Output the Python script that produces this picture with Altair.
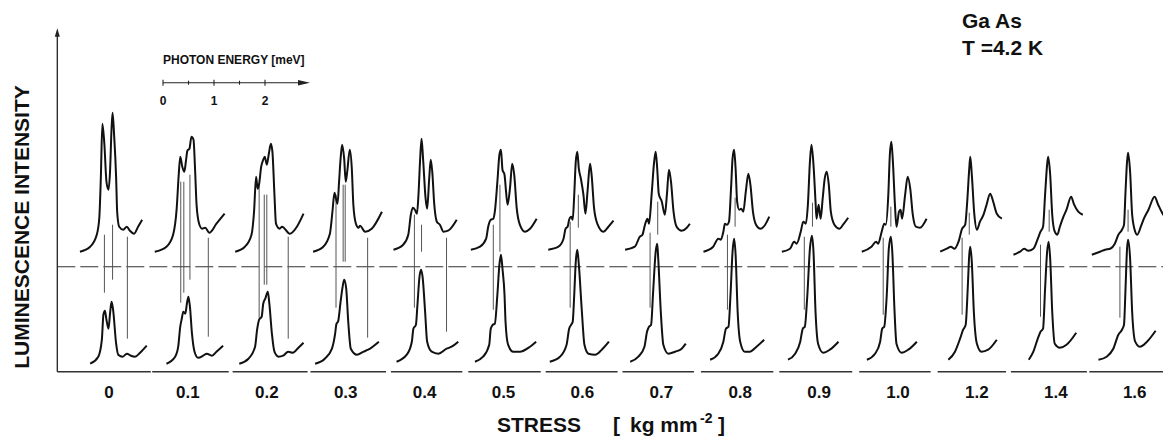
import altair as alt
import pandas as pd

# ---------------- data ----------------
STRESS = ["0", "0.1", "0.2", "0.3", "0.4", "0.5", "0.6", "0.7",
          "0.8", "0.9", "1.0", "1.2", "1.4", "1.6"]

# upper spectra: photon energy (meV, relative to panel) and intensity (arb. units)
UPPER_E = [
    [-0.57, -0.37, -0.24, -0.19, -0.16, -0.13, -0.09, -0.05, -0.01, 0.02, 0.05, 0.07, 0.10, 0.14, 0.16, 0.20, 0.28, 0.35, 0.41, 0.49, 0.57, 0.65],
    [-0.65, -0.42, -0.29, -0.22, -0.18, -0.15, -0.11, -0.07, -0.04, -0.01, 0.03, 0.07, 0.11, 0.14, 0.17, 0.22, 0.28, 0.34, 0.42, 0.56, 0.72],
    [-0.62, -0.43, -0.30, -0.25, -0.21, -0.18, -0.15, -0.11, -0.07, -0.04, 0.00, 0.04, 0.08, 0.11, 0.15, 0.18, 0.25, 0.30, 0.45, 0.59, 0.72],
    [-0.64, -0.44, -0.31, -0.26, -0.22, -0.19, -0.16, -0.13, -0.10, -0.07, -0.03, 0.00, 0.03, 0.08, 0.12, 0.15, 0.20, 0.25, 0.28, 0.38, 0.51, 0.71],
    [-0.61, -0.42, -0.32, -0.27, -0.23, -0.19, -0.15, -0.12, -0.09, -0.06, -0.03, 0.02, 0.05, 0.09, 0.12, 0.15, 0.19, 0.24, 0.30, 0.37, 0.46, 0.63],
    [-0.64, -0.46, -0.34, -0.30, -0.25, -0.20, -0.17, -0.12, -0.08, -0.05, -0.02, 0.02, 0.05, 0.08, 0.13, 0.17, 0.21, 0.26, 0.32, 0.42, 0.52, 0.65],
    [-0.67, -0.47, -0.37, -0.33, -0.29, -0.26, -0.22, -0.19, -0.16, -0.13, -0.10, -0.07, -0.03, 0.02, 0.06, 0.10, 0.15, 0.18, 0.23, 0.30, 0.41, 0.51, 0.61],
    [-0.71, -0.52, -0.42, -0.37, -0.32, -0.27, -0.24, -0.19, -0.14, -0.11, -0.08, -0.05, 0.01, 0.07, 0.11, 0.15, 0.19, 0.24, 0.30, 0.40, 0.50, 0.56],
    [-0.72, -0.53, -0.43, -0.38, -0.33, -0.30, -0.26, -0.22, -0.18, -0.15, -0.12, -0.09, -0.06, -0.02, 0.02, 0.06, 0.11, 0.16, 0.20, 0.25, 0.31, 0.40, 0.49, 0.57],
    [-0.73, -0.57, -0.49, -0.44, -0.36, -0.31, -0.26, -0.22, -0.18, -0.15, -0.11, -0.07, -0.05, -0.01, 0.03, 0.07, 0.11, 0.15, 0.19, 0.23, 0.30, 0.40, 0.47, 0.57],
    [-0.71, -0.52, -0.43, -0.39, -0.32, -0.27, -0.24, -0.19, -0.16, -0.13, -0.10, -0.06, -0.03, 0.02, 0.05, 0.08, 0.14, 0.19, 0.24, 0.29, 0.35, 0.43, 0.56],
    [-0.72, -0.59, -0.51, -0.44, -0.36, -0.29, -0.23, -0.19, -0.15, -0.13, -0.10, -0.05, 0.00, 0.06, 0.13, 0.19, 0.26, 0.32, 0.39, 0.49],
    [-0.83, -0.70, -0.62, -0.54, -0.44, -0.36, -0.30, -0.25, -0.21, -0.17, -0.15, -0.11, -0.07, -0.02, 0.03, 0.08, 0.15, 0.21, 0.30, 0.36, 0.44, 0.53],
    [-0.84, -0.68, -0.58, -0.48, -0.39, -0.32, -0.25, -0.21, -0.18, -0.15, -0.13, -0.09, -0.05, 0.01, 0.05, 0.12, 0.18, 0.27, 0.39, 0.46, 0.56, 0.69],
]
UPPER_I = [
    [15, 20, 32, 49, 89, 143, 122, 85, 77, 95, 138, 154, 132, 89, 55, 40, 37, 40, 36, 33, 40, 47],
    [15, 20, 32, 58, 92, 110, 100, 95, 105, 116, 118, 130, 127, 98, 62, 43, 38, 39, 34, 43, 53],
    [15, 20, 32, 55, 90, 78, 83, 100, 107, 110, 102, 113, 123, 115, 72, 43, 38, 40, 33, 40, 53],
    [15, 20, 33, 55, 74, 68, 63, 85, 108, 122, 108, 85, 95, 117, 98, 62, 43, 39, 41, 35, 38, 55],
    [17, 22, 32, 52, 59, 57, 53, 72, 105, 128, 108, 68, 58, 88, 107, 95, 62, 45, 42, 35, 36, 47],
    [17, 20, 28, 40, 47, 48, 55, 85, 112, 117, 97, 92, 75, 62, 80, 103, 92, 58, 42, 35, 38, 48],
    [17, 20, 28, 38, 40, 47, 50, 47, 72, 105, 115, 98, 88, 72, 53, 75, 103, 92, 58, 42, 35, 40, 46],
    [17, 20, 30, 32, 42, 48, 43, 72, 105, 115, 98, 73, 65, 52, 72, 97, 85, 55, 40, 36, 39, 43],
    [15, 20, 28, 27, 35, 43, 42, 45, 78, 108, 117, 98, 65, 57, 58, 55, 75, 93, 82, 55, 42, 38, 42, 50],
    [15, 18, 25, 23, 35, 45, 43, 62, 105, 122, 102, 65, 48, 62, 48, 68, 88, 95, 82, 55, 42, 38, 42, 49],
    [15, 20, 25, 23, 35, 43, 42, 72, 112, 125, 105, 62, 40, 55, 57, 48, 72, 90, 78, 52, 40, 39, 48],
    [15, 18, 20, 18, 25, 38, 42, 65, 98, 110, 92, 52, 37, 45, 52, 62, 73, 65, 53, 48],
    [12, 15, 18, 16, 18, 27, 35, 40, 72, 102, 110, 92, 52, 35, 32, 40, 50, 57, 70, 62, 55, 52],
    [12, 15, 17, 18, 23, 32, 37, 42, 75, 105, 114, 95, 52, 35, 32, 40, 48, 57, 70, 62, 52, 47],
]

# lower spectra
LOWER_E = [
    [-0.37, -0.21, -0.14, -0.11, -0.08, -0.05, -0.01, 0.02, 0.05, 0.08, 0.14, 0.18, 0.27, 0.35, 0.43, 0.51, 0.61, 0.74],
    [-0.42, -0.25, -0.19, -0.15, -0.12, -0.09, -0.05, -0.02, 0.01, 0.04, 0.08, 0.13, 0.20, 0.30, 0.37, 0.47, 0.56, 0.69],
    [-0.54, -0.36, -0.23, -0.19, -0.15, -0.10, -0.07, -0.03, 0.02, 0.05, 0.10, 0.15, 0.23, 0.32, 0.42, 0.51, 0.62, 0.72],
    [-0.60, -0.41, -0.27, -0.21, -0.18, -0.15, -0.10, -0.06, -0.03, 0.01, 0.05, 0.10, 0.22, 0.35, 0.44, 0.65],
    [-0.55, -0.35, -0.25, -0.22, -0.17, -0.14, -0.10, -0.07, -0.04, 0.01, 0.05, 0.14, 0.27, 0.43, 0.53, 0.66],
    [-0.56, -0.40, -0.28, -0.25, -0.21, -0.17, -0.12, -0.08, -0.05, -0.02, 0.02, 0.04, 0.09, 0.19, 0.32, 0.52, 0.64],
    [-0.64, -0.44, -0.31, -0.26, -0.22, -0.19, -0.16, -0.13, -0.10, -0.07, -0.01, 0.04, 0.12, 0.25, 0.38, 0.52],
    [-0.61, -0.45, -0.33, -0.28, -0.24, -0.20, -0.16, -0.11, -0.08, -0.06, -0.01, 0.04, 0.14, 0.27, 0.40, 0.48],
    [-0.59, -0.43, -0.33, -0.28, -0.23, -0.19, -0.15, -0.12, -0.09, -0.05, 0.00, 0.09, 0.19, 0.32, 0.47],
    [-0.61, -0.47, -0.37, -0.32, -0.28, -0.23, -0.18, -0.14, -0.11, -0.07, -0.02, 0.08, 0.21, 0.38],
    [-0.61, -0.45, -0.35, -0.31, -0.27, -0.22, -0.18, -0.14, -0.11, -0.07, -0.03, 0.07, 0.20, 0.37],
    [-0.56, -0.43, -0.33, -0.27, -0.22, -0.18, -0.15, -0.13, -0.10, -0.06, 0.00, 0.09, 0.22, 0.39],
    [-0.53, -0.44, -0.36, -0.30, -0.25, -0.21, -0.17, -0.14, -0.11, -0.07, -0.02, 0.08, 0.21, 0.40],
    [-0.71, -0.55, -0.42, -0.32, -0.25, -0.21, -0.18, -0.15, -0.13, -0.09, -0.05, 0.01, 0.10, 0.24, 0.41],
]
LOWER_I = [
    [8, 15, 32, 57, 61, 52, 43, 58, 70, 62, 28, 17, 15, 18, 16, 15, 19, 26],
    [8, 15, 25, 45, 53, 60, 58, 68, 75, 65, 38, 20, 14, 16, 18, 16, 20, 26],
    [8, 13, 25, 42, 52, 55, 68, 73, 80, 68, 38, 20, 15, 16, 20, 19, 24, 29],
    [8, 13, 23, 37, 48, 50, 70, 85, 92, 83, 50, 23, 17, 20, 22, 30],
    [10, 17, 30, 43, 47, 67, 95, 102, 95, 60, 30, 20, 18, 23, 25, 30],
    [10, 15, 27, 43, 47, 48, 77, 107, 117, 103, 77, 50, 27, 20, 20, 25, 30],
    [10, 15, 27, 43, 47, 50, 77, 110, 122, 107, 60, 27, 18, 17, 22, 30],
    [10, 15, 25, 40, 45, 47, 80, 120, 128, 113, 60, 27, 18, 20, 23, 28],
    [12, 18, 30, 43, 45, 77, 120, 133, 117, 60, 30, 20, 20, 25, 32],
    [12, 18, 30, 43, 45, 77, 123, 136, 120, 60, 28, 19, 22, 30],
    [12, 18, 30, 43, 45, 77, 123, 135, 118, 63, 28, 19, 22, 30],
    [12, 20, 33, 42, 47, 83, 117, 125, 110, 60, 28, 20, 22, 32],
    [12, 20, 32, 40, 43, 83, 120, 130, 113, 60, 28, 24, 27, 39],
    [12, 15, 23, 37, 42, 47, 83, 123, 132, 113, 60, 30, 25, 30, 41],
]

# thin vertical lines linking the lines of the two spectra: energy, top, bottom
MARK_E = [
    [-0.09, 0.07, 0.36], [-0.14, -0.08, 0.04, 0.40], [-0.15, -0.05, 0.00, 0.42],
    [-0.19, -0.05, -0.01, 0.43], [-0.20, -0.06, 0.43], [-0.20, -0.07], [-0.24, -0.08],
    [-0.22, -0.07], [-0.25, -0.10], [-0.29, -0.13], [-0.29, -0.14], [-0.29, -0.15],
    [-0.30, -0.13], [-0.29, -0.13],
]
MARK_TOP = [
    [137, 147, 135], [190, 190, 197, 134], [187, 177, 177, 135], [177, 187, 187, 134],
    [157, 147, 134], [147, 187], [150, 177], [139, 170], [137, 174], [135, 169],
    [134, 165], [134, 159], [127, 162], [125, 162],
]
MARK_BOT = [
    [79, 92, 33], [69, 79, 92, 35], [54, 87, 87, 33], [64, 110, 110, 34],
    [64, 120, 40], [62, 120], [64, 144], [64, 137], [62, 145], [62, 145],
    [57, 145], [57, 137], [55, 140], [54, 140],
]

SCALE_TICKS = [0, 0.5, 1, 1.5, 2]
SCALE_LABELS = ["0", "1", "2"]

# ---------------- layout ----------------
PX_PER_MEV = 51.0


def px_to_x(px):
    return (px - 163) / PX_PER_MEV


def py_to_y(py):
    return 371.7 - py


X_DOMAIN = [px_to_x(8), px_to_x(1163)]
Y_DOMAIN = [py_to_y(436), py_to_y(8)]
PANEL0 = px_to_x(109)
PANEL_STEP = 78.9 / PX_PER_MEV
UPPER_LEVEL = 105
AXIS_X = px_to_x(57.3)
FONT = "Liberation Sans"

xs = alt.Scale(domain=X_DOMAIN, nice=False, zero=False)
ys = alt.Scale(domain=Y_DOMAIN, nice=False, zero=False)


def X(f):
    return alt.X(f, type="quantitative", scale=xs, axis=None)


def Y(f):
    return alt.Y(f, type="quantitative", scale=ys, axis=None)


centers = [PANEL0 + i * PANEL_STEP for i in range(len(STRESS))]

rows, marks, base = [], [], []
for i, xc in enumerate(centers):
    for e, v in zip(UPPER_E[i], UPPER_I[i]):
        rows.append(dict(series=f"u{i}", x=xc + e, y=UPPER_LEVEL + v))
    for e, v in zip(LOWER_E[i], LOWER_I[i]):
        rows.append(dict(series=f"l{i}", x=xc + e, y=v))
    for e, t, b in zip(MARK_E[i], MARK_TOP[i], MARK_BOT[i]):
        marks.append(dict(x=xc + e, y=t, y2=b))
    lo = min(UPPER_E[i] + LOWER_E[i]) + xc - 0.05
    hi = max(UPPER_E[i] + LOWER_E[i]) + xc + 0.08
    base.append(dict(x=AXIS_X if i == 0 else lo, x2=hi, y=0))

spec = pd.DataFrame(rows)
marks_df = pd.DataFrame(marks)
base_df = pd.DataFrame(base)
labels_df = pd.DataFrame(dict(x=centers, y=[py_to_y(392.5)] * len(STRESS), text=STRESS))

spectra = alt.Chart(spec).mark_line(color="#111", strokeWidth=2, interpolate="monotone").encode(
    x=X("x"), y=Y("y"), detail="series:N")

link_lines = alt.Chart(marks_df).mark_rule(color="#555", strokeWidth=1).encode(
    x=X("x"), y=Y("y"), y2="y2:Q")

baselines = alt.Chart(base_df).mark_rule(color="#333", strokeWidth=1.5).encode(
    x=X("x"), x2="x2:Q", y=Y("y"))

dashed = alt.Chart(pd.DataFrame(dict(x=[AXIS_X], x2=[X_DOMAIN[1]], y=[UPPER_LEVEL]))).mark_rule(
    color="#333", strokeWidth=1.1, strokeDash=[18, 5]).encode(x=X("x"), x2="x2:Q", y=Y("y"))

yaxis = alt.Chart(pd.DataFrame(dict(x=[AXIS_X], y=[0], y2=[py_to_y(34)]))).mark_rule(
    color="#222", strokeWidth=1.3).encode(x=X("x"), y=Y("y"), y2="y2:Q")
yarrow = alt.Chart(pd.DataFrame(dict(x=[AXIS_X], y=[py_to_y(32.5)]))).mark_point(
    shape="M0,-1L0.6,1L-0.6,1Z", filled=True, color="#222", size=70, opacity=1).encode(
    x=X("x"), y=Y("y"))

bar_y = py_to_y(82.7)
sbar = alt.Chart(pd.DataFrame(dict(x=[0], x2=[px_to_x(300)], y=[bar_y]))).mark_rule(
    color="#222", strokeWidth=1.1).encode(x=X("x"), x2="x2:Q", y=Y("y"))
sarrow = alt.Chart(pd.DataFrame(dict(x=[px_to_x(304)], y=[bar_y]))).mark_point(
    shape="M-1,-0.45L1,0L-1,0.45Z", filled=True, color="#222", size=144, opacity=1).encode(
    x=X("x"), y=Y("y"))
tick_df = pd.DataFrame(dict(x=SCALE_TICKS,
                            y=[bar_y + (3 if t == int(t) else 2) for t in SCALE_TICKS],
                            y2=[bar_y - (3 if t == int(t) else 2) for t in SCALE_TICKS]))
sticks = alt.Chart(tick_df).mark_rule(color="#222", strokeWidth=1.1).encode(
    x=X("x"), y=Y("y"), y2="y2:Q")
slabels = alt.Chart(pd.DataFrame(dict(x=[0, 1, 2], y=[py_to_y(101)] * 3, text=SCALE_LABELS))).mark_text(
    font=FONT, fontSize=12, fontWeight="bold", color="#111").encode(x=X("x"), y=Y("y"), text="text:N")
stitle = alt.Chart(pd.DataFrame(dict(x=[px_to_x(163)], y=[py_to_y(60)], text=["PHOTON  ENERGY [meV]"]))).mark_text(
    font=FONT, fontSize=12, fontWeight="bold", color="#111", align="left").encode(
    x=X("x"), y=Y("y"), text="text:N")

stress_labels = alt.Chart(labels_df).mark_text(
    font=FONT, fontSize=17, fontWeight="bold", color="#111").encode(x=X("x"), y=Y("y"), text="text:N")

ytitle = alt.Chart(pd.DataFrame(dict(x=[px_to_x(23)], y=[py_to_y(227)], text=["LUMINESCENCE INTENSITY"]))).mark_text(
    font=FONT, fontSize=21, fontWeight="bold", color="#111", angle=270).encode(
    x=X("x"), y=Y("y"), text="text:N")


def big_text(txt, px, py, size=22, baseline="alphabetic"):
    return alt.Chart(pd.DataFrame(dict(x=[px_to_x(px)], y=[py_to_y(py)], text=[txt]))).mark_text(
        font=FONT, fontSize=size, fontWeight="bold", color="#111", align="left", baseline=baseline).encode(
        x=X("x"), y=Y("y"), text="text:N")


xtitle = [
    big_text("STRESS", 497, 432, size=21),
    big_text("[", 613, 432, size=21),
    big_text("kg mm", 630, 432, size=21),
    big_text("-2", 700, 423, size=14),
    big_text("]", 718, 432, size=21),
]
corner = [
    big_text("Ga As", 962, 28, size=21),
    big_text("T =4.2 K", 962, 55, size=21),
]

chart = alt.layer(
    dashed, baselines, link_lines, spectra, yaxis, yarrow,
    sbar, sarrow, sticks, slabels, stitle, stress_labels, ytitle, *xtitle, *corner
).properties(
    width=1155, height=428, padding=0,
    autosize=alt.AutoSizeParams(type="none"),
).configure_view(stroke=None)

chart.save("out.html", embed_options={"renderer": "svg", "actions": False})
